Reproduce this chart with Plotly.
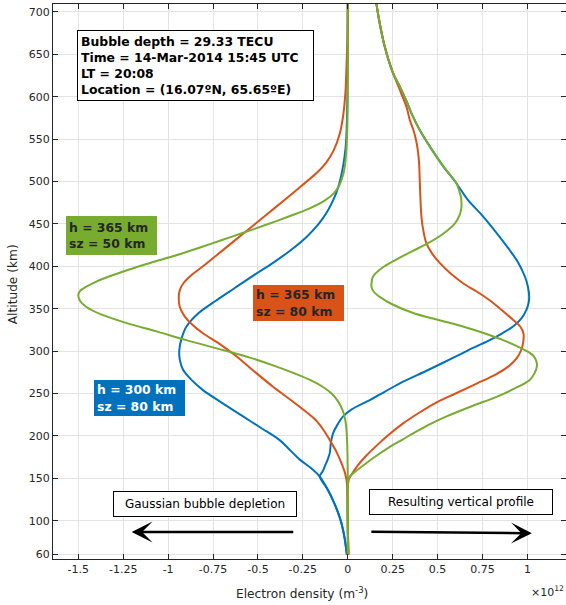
import plotly.graph_objects as go

# Electron density in units of 1e12 m^-3, altitude in km.
# Gaussian bubble depletions (negative side)
alt_dep_blue = [60, 80, 97, 110, 124, 138, 152, 162, 172, 184, 195, 209, 223, 239, 254, 266, 278, 290, 301, 315, 329,
                345, 360, 375, 390, 405, 419, 435, 450, 465, 478, 494, 518, 540, 557, 600, 650, 712]
dep_blue = [-0.005, -0.018, -0.035, -0.055, -0.082, -0.115, -0.156, -0.205, -0.267, -0.325, -0.379, -0.48, -0.583,
            -0.70, -0.806, -0.87, -0.917, -0.935, -0.938, -0.925, -0.898, -0.83, -0.73, -0.625, -0.52, -0.41, -0.318,
            -0.228, -0.162, -0.113, -0.081, -0.052, -0.026, -0.012, -0.007, -0.002, 0.0, 0.0]

alt_dep_orange = [60, 108, 130, 148, 158, 168, 182, 195, 207, 219, 238, 258, 276, 294, 308, 321, 331, 341, 352, 364,
                  372, 380, 390, 400, 420, 440, 460, 480, 495, 510, 523, 537, 556, 577, 605, 636, 670, 712]
dep_orange = [0.0, 0.0, -0.002, -0.007, -0.018, -0.035, -0.065, -0.10, -0.135, -0.18, -0.29, -0.416, -0.52, -0.62,
              -0.71, -0.806, -0.865, -0.908, -0.935, -0.941, -0.935, -0.915, -0.868, -0.806, -0.69, -0.574, -0.458,
              -0.342, -0.257, -0.174, -0.118, -0.078, -0.045, -0.026, -0.013, -0.007, -0.002, 0.0]

alt_dep_green = [60, 150, 183, 207, 220, 231, 241, 250, 258, 266, 274, 282, 292, 301, 313, 323, 333, 343, 352, 359,
                 366, 371, 376, 382, 388, 396, 404, 413, 423, 431, 439, 449, 459, 468, 478, 486, 495, 507, 520, 540,
                 560, 600, 712]
dep_green = [0.0, 0.0, -0.002, -0.007, -0.015, -0.03, -0.055, -0.09, -0.14, -0.21, -0.30, -0.40, -0.54, -0.69, -0.90,
             -1.06, -1.23, -1.37, -1.455, -1.49, -1.50, -1.49, -1.455, -1.40, -1.33, -1.22, -1.10, -0.955, -0.81,
             -0.70, -0.59, -0.455, -0.325, -0.215, -0.125, -0.078, -0.048, -0.027, -0.015, -0.007, -0.003, 0.0, 0.0]

# Resulting vertical profiles (positive side)
alt_prof_blue = [60, 80, 97, 110, 124, 138, 152, 158, 164, 172, 180, 192, 203, 213, 223, 231, 243, 252, 262, 278, 294,
                 304, 313, 321, 329, 339, 349, 357, 364, 376, 388, 404, 419, 439, 459, 478, 498, 517, 537, 561, 578,
                 596, 612, 628, 660, 690, 712]
prof_blue = [-0.005, -0.018, -0.035, -0.055, -0.082, -0.115, -0.156, -0.14, -0.128, -0.112, -0.10, -0.094, -0.082,
             -0.058, -0.026, 0.02, 0.13, 0.205, 0.29, 0.45, 0.605, 0.70, 0.79, 0.86, 0.92, 0.968, 0.995, 1.007, 1.01,
             1.003, 0.986, 0.95, 0.902, 0.83, 0.753, 0.67, 0.605, 0.535, 0.47, 0.40, 0.36, 0.325, 0.29, 0.252, 0.205,
             0.175, 0.158]

alt_prof_orange = [60, 148, 154, 165, 176, 190, 203, 215, 227, 239, 250, 262, 272, 282, 292, 301, 311, 321, 329, 337,
                   348, 360, 370, 380, 392, 404, 415, 427, 443, 459, 478, 506, 522, 537, 549, 561, 573, 588, 608, 628,
                   660, 690, 712]
prof_orange = [0.005, 0.005, 0.02, 0.055, 0.10, 0.168, 0.238, 0.31, 0.395, 0.49, 0.60, 0.72, 0.82, 0.895, 0.942,
               0.965, 0.977, 0.978, 0.96, 0.92, 0.86, 0.79, 0.72, 0.642, 0.57, 0.512, 0.47, 0.438, 0.42, 0.41, 0.405,
               0.40, 0.397, 0.39, 0.38, 0.365, 0.345, 0.327, 0.29, 0.252, 0.205, 0.175, 0.158]

alt_prof_green = [60, 150, 154, 160, 168, 178, 187, 195, 203, 213, 223, 235, 246, 256, 266, 274, 282, 288, 294, 298,
                  305, 313, 321, 329, 337, 345, 355, 364, 370, 376, 382, 388, 398, 408, 418, 427, 439, 451, 460, 468,
                  475, 482, 488, 498, 517, 537, 561, 578, 596, 612, 628, 660, 690, 712]
prof_green = [0.005, 0.005, 0.02, 0.055, 0.104, 0.17, 0.234, 0.30, 0.364, 0.45, 0.55, 0.69, 0.828, 0.93, 1.013, 1.04,
              1.053, 1.05, 1.035, 1.013, 0.95, 0.865, 0.76, 0.642, 0.50, 0.364, 0.25, 0.178, 0.145, 0.132, 0.133,
              0.141, 0.19, 0.27, 0.36, 0.445, 0.535, 0.598, 0.622, 0.632, 0.633, 0.63, 0.622, 0.605, 0.535, 0.47,
              0.40, 0.36, 0.325, 0.29, 0.252, 0.205, 0.175, 0.158]

x_ticks = [-1.5, -1.25, -1, -0.75, -0.5, -0.25, 0, 0.25, 0.5, 0.75, 1]
x_tick_text = ["-1.5", "-1.25", "-1", "-0.75", "-0.5", "-0.25", "0", "0.25", "0.5", "0.75", "1"]
y_ticks = [60, 100, 150, 200, 250, 300, 350, 400, 450, 500, 550, 600, 650, 700]

BLUE = "#0072BD"
ORANGE = "#D95319"
GREEN = "#77AC30"
INK = "#262626"
FONT = "DejaVu Sans"

fig = go.Figure()

series = [
    (dep_blue, alt_dep_blue, BLUE),
    (dep_orange, alt_dep_orange, ORANGE),
    (dep_green, alt_dep_green, GREEN),
    (prof_blue, alt_prof_blue, BLUE),
    (prof_orange, alt_prof_orange, ORANGE),
    (prof_green, alt_prof_green, GREEN),
]
order = [0, 3, 1, 4, 2, 5]
for i in order:
    xs, ys, col = series[i]
    fig.add_trace(go.Scatter(
        x=xs, y=ys, mode="lines",
        line=dict(color=col, width=2, shape="spline", smoothing=0.9),
        showlegend=False, hoverinfo="skip",
    ))

annotations = []

# Event information box
annotations.append(dict(
    x=-1.509, y=679, xref="x", yref="y", xanchor="left", yanchor="top",
    text="Bubble depth = 29.33 TECU<br>Time = 14-Mar-2014 15:45 UTC<br>LT = 20:08<br>Location = (16.07ºN, 65.65ºE)",
    showarrow=False, align="left", width=229,
    font=dict(family=FONT, size=12.4, color="black", weight="bold"),
    bordercolor="black", borderwidth=1, borderpad=3, bgcolor="white",
))

# Bubble parameter labels
for x, y, txt, bg, fc, h in [
    (-1.317, 436.5, "h = 365 km<br>sz = 50 km", GREEN, INK, 33),
    (-0.276, 356.2, "h = 365 km<br>sz = 80 km", ORANGE, INK, 30),
    (-1.161, 244.8, "h = 300 km<br>sz = 80 km", BLUE, "white", 30),
]:
    annotations.append(dict(
        x=x, y=y, xref="x", yref="y", text=txt, showarrow=False,
        align="left", width=85, height=h, borderpad=3, borderwidth=0,
        bgcolor=bg, font=dict(family=FONT, size=12.4, color=fc, weight="bold"),
    ))

# Side captions
for x, y, txt in [(-0.796, 119.1, "Gaussian bubble depletion"),
                  (0.629, 121.5, "Resulting vertical profile")]:
    annotations.append(dict(
        x=x, y=y, xref="x", yref="y", text=txt, showarrow=False,
        width=176, height=18, borderpad=3, borderwidth=1,
        bordercolor="black", bgcolor="white",
        font=dict(family=FONT, size=12, color="black"),
    ))

# Direction arrows
for tail_x, tail_y, tip_x, tip_y in [(-0.295, 86.7, -1.203, 86.7),
                                     (0.123, 87.0, 1.025, 85.2)]:
    annotations.append(dict(
        x=tip_x, y=tip_y, ax=tail_x, ay=tail_y,
        xref="x", yref="y", axref="x", ayref="y",
        text="", showarrow=True, arrowhead=3, arrowsize=1.45,
        arrowwidth=2.4, arrowcolor="black",
    ))

# Axis titles and exponent label
annotations.append(dict(
    x=(302 - 53) / 513, y=-0.0613, xref="paper", yref="paper",
    text="Electron density (m<sup>-3</sup>)", showarrow=False,
    xanchor="center", yanchor="middle",
    font=dict(family=FONT, size=12.2, color=INK),
))
annotations.append(dict(
    x=-0.078, y=0.495, xref="paper", yref="paper",
    text="Altitude (km)", showarrow=False, textangle=-90,
    xanchor="center", yanchor="middle",
    font=dict(family=FONT, size=12.2, color=INK),
))
annotations.append(dict(
    x=1.0, y=-0.058, xref="paper", yref="paper",
    text="×10<sup>12</sup>", showarrow=False,
    xanchor="right", yanchor="middle",
    font=dict(family=FONT, size=11, color=INK),
))

axis_common = dict(
    showline=True, linecolor=INK, linewidth=1, mirror="ticks",
    ticks="inside", ticklen=5, tickcolor=INK, tickwidth=1,
    showgrid=True, gridcolor="#e3e3e3", gridwidth=1,
    zeroline=False, tickfont=dict(family=FONT, size=11, color=INK),
)

fig.update_layout(
    width=566, height=605,
    margin=dict(l=53, r=0, t=4, b=46),
    paper_bgcolor="white", plot_bgcolor="white",
    xaxis=dict(range=[-1.641, 1.215], tickvals=x_ticks, ticktext=x_tick_text, **axis_common),
    yaxis=dict(range=[54.8, 709.4], tickvals=y_ticks, **axis_common),
    annotations=annotations,
    showlegend=False,
)

fig.write_html("out.html")
